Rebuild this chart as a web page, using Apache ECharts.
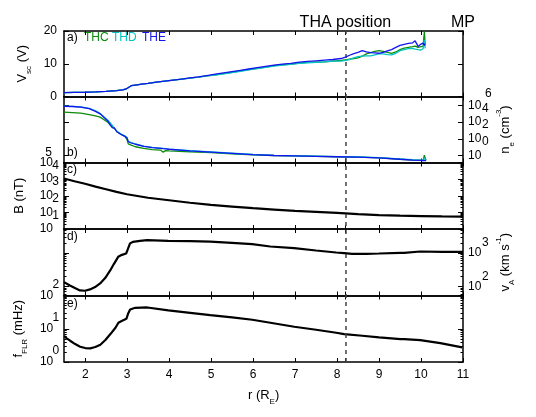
<!DOCTYPE html>
<html><head><meta charset="utf-8">
<script src="https://cdn.jsdelivr.net/npm/echarts@6/dist/echarts.min.js"></script>
<style>html,body{margin:0;padding:0;background:#fff}#c{width:536px;height:417px}</style>
</head><body><div id="c"></div>
<script>
// ---------------- data ----------------
const xTickValues = [2, 3, 4, 5, 6, 7, 8, 9, 10, 11];
const thaPosition = 8.2;
const mpPosition = 11;

// panel a: spacecraft potential (V)
const rA = [1.5,1.75,2.0,2.25,2.5,2.75,2.9,2.98,3.02,3.1,3.2,3.35,3.5,3.7,3.9,4.1,4.3,4.5,4.7,4.9,5.1,5.3,5.5,5.7,5.9,6.1,6.3,6.5,6.7,6.9,7.1,7.3,7.5,7.7,7.9,8.1,8.2,8.3,8.4,8.5,8.6,8.7,8.8,8.9,9.0,9.1,9.2,9.3,9.4,9.5,9.6,9.7,9.8,9.86,9.93,10.0,10.05,10.08,10.1];
const vscTHE = [1.2,1.25,1.3,1.4,1.55,1.8,2.0,2.3,2.9,3.3,3.5,3.8,4.0,4.4,4.7,5.0,5.3,5.7,6.0,6.4,6.8,7.2,7.6,8.0,8.4,8.8,9.2,9.6,9.9,10.1,10.5,10.7,10.9,11.1,11.3,11.6,12.0,12.6,13.1,13.5,14.0,13.6,13.4,13.3,13.2,13.5,13.9,14.3,15.0,15.6,15.9,16.2,16.4,17.0,15.3,16.0,16.3,15.6,16.1];
const vscTHC = [1.2,1.25,1.3,1.4,1.55,1.8,2.0,2.3,2.9,3.3,3.5,3.8,4.0,4.4,4.7,5.0,5.3,5.6,5.9,6.3,6.6,7.0,7.4,7.8,8.2,8.6,9.0,9.4,9.7,9.9,10.2,10.4,10.5,10.6,10.8,11.0,11.2,11.4,11.6,11.8,12.3,13.0,13.4,13.8,14.0,13.8,13.5,13.2,13.6,14.3,14.8,15.0,15.2,15.4,15.0,15.2,15.3,19.8,15.7];
const vscTHD = [1.2,1.25,1.3,1.4,1.55,1.8,2.0,2.3,2.9,3.3,3.5,3.8,4.0,4.4,4.7,5.0,5.3,5.6,5.9,6.3,6.5,6.9,7.3,7.7,8.1,8.5,8.9,9.3,9.6,9.8,10.1,10.3,10.4,10.6,10.8,10.8,11.0,11.3,11.8,12.2,12.3,12.4,12.4,12.7,13.0,13.0,12.8,12.7,13.2,14.0,14.3,14.6,14.7,14.5,14.3,14.2,14.6,17.3,14.7];

// panel b: electron density, log10(n_e / cm^-3)
const rB = [1.5,1.7,1.9,2.1,2.25,2.36,2.48,2.55,2.6,2.65,2.7,2.76,2.85,2.95,3.0,3.03,3.1,3.2,3.4,3.6,3.8,3.86,3.92,4.0,4.5,5.0,5.5,6.0,6.5,7.0,7.5,8.0,8.5,9.0,9.5,9.8,10.0,10.05,10.08,10.12];
const neTHE = [3.9,3.88,3.8,3.62,3.3,3.0,2.45,2.1,1.7,1.35,1.3,0.85,0.55,0.3,0.1,-0.35,-0.5,-0.65,-0.9,-1.05,-1.15,-1.18,-1.2,-1.25,-1.45,-1.6,-1.75,-1.9,-2.0,-2.05,-2.1,-2.15,-2.2,-2.28,-2.45,-2.55,-2.58,-2.6,-2.6,-2.6];
const neTHD = [3.92,3.9,3.82,3.65,3.35,3.05,2.5,2.2,1.9,1.6,1.25,0.9,0.6,0.35,0.15,-0.3,-0.45,-0.6,-0.88,-1.02,-1.12,-1.15,-1.18,-1.23,-1.43,-1.58,-1.73,-1.88,-1.98,-2.03,-2.08,-2.13,-2.18,-2.25,-2.4,-2.5,-2.55,-2.56,-2.3,-2.56];
const neTHC = [3.2,3.15,3.08,2.9,2.75,2.6,2.2,1.95,1.65,1.4,1.25,0.85,0.55,0.3,-0.1,-0.6,-0.75,-0.95,-1.15,-1.3,-1.35,-1.6,-1.42,-1.45,-1.55,-1.65,-1.8,-1.92,-2.0,-2.05,-2.1,-2.15,-2.2,-2.28,-2.45,-2.55,-2.58,-2.6,-1.95,-2.6];

// panel c: magnetic field, log10(B / nT)
const rC = [1.5,1.75,2,2.25,2.5,2.75,3,3.5,4,4.5,5,5.5,6,6.5,7,7.5,8,8.5,9,9.5,10,10.5,11];
const logB = [3.04,2.87,2.72,2.55,2.39,2.23,2.09,1.88,1.73,1.58,1.45,1.35,1.25,1.17,1.09,1.03,0.97,0.90,0.84,0.80,0.78,0.76,0.75];

// panel d: Alfven speed, log10(v_A / km s^-1)
const rD = [1.5,1.64,1.76,1.88,2.0,2.12,2.24,2.36,2.48,2.6,2.69,2.79,2.88,2.98,3.02,3.07,3.14,3.31,3.48,3.98,4.5,4.98,5.5,5.98,6.41,6.98,7.5,7.98,8.17,8.36,8.7,9.0,9.51,9.6,9.64,9.98,10.5,11];
const logVA = [2.13,2.03,1.95,1.88,1.87,1.91,1.98,2.09,2.25,2.48,2.68,2.89,2.95,2.99,3.12,3.29,3.34,3.37,3.39,3.37,3.36,3.35,3.31,3.27,3.2,3.15,3.08,3.02,3.0,2.98,2.98,2.99,3.01,3.01,3.05,3.05,3.04,3.04];

// panel e: field line resonance frequency, log10(f / mHz)
const rE = [1.5,1.55,1.64,1.76,1.88,2.0,2.12,2.24,2.36,2.48,2.6,2.72,2.79,2.88,2.98,3.02,3.07,3.19,3.48,3.98,4.5,4.98,5.5,5.98,6.41,6.98,7.5,7.98,8.17,8.6,9.0,9.51,9.6,9.64,9.98,10.46,10.98];
const logF = [0.78,0.72,0.64,0.54,0.46,0.42,0.41,0.45,0.52,0.66,0.84,1.03,1.18,1.24,1.30,1.45,1.58,1.63,1.64,1.55,1.48,1.41,1.34,1.27,1.18,1.06,0.97,0.88,0.84,0.79,0.74,0.69,0.69,0.71,0.66,0.57,0.44];

// tick labels
const aTickVals = [0, 10, 20];
const aTickLabels = ['0', '10', '20'];
const bTickVals = [-2, 0, 2, 4];
const bRightBase = ['10', '10', '10', '10'];
const bRightExp = ['', '0', '2', '4'];
const bTopExp = '6';
const bLeftLabel = '5';
const cTickVals = [0, 1, 2, 3, 4];
const cBase = ['10', '10', '10', '10', '10'];
const cExp = ['', '1', '2', '3', '4'];
const dTickVals = [2, 3];
const dBase = ['10', '10'];
const dExp = ['2', '3'];
const eTickVals = [0, 1, 2];
const eBase = ['10', '10', '10'];
const eExp = ['0', '1', '2'];

const spacecraft = ['THC', 'THD', 'THE'];
const scColors = ['#0b8c0b', '#00c4c4', '#1414f0'];

// ---------------- layout / style ----------------
const FONT = '"Liberation Sans", Arial, Helvetica, sans-serif';
const GL = 64, GW = 399;
const panels = [
  { top: 31, height: 65.5, min: 0, max: 20 },
  { top: 96.5, height: 66, min: -2.84, max: 5.08 },
  { top: 162.5, height: 66.5, min: 0, max: 4 },
  { top: 229, height: 66.5, min: 1.727, max: 3.727 },
  { top: 295.5, height: 66.5, min: 0, max: 2 }
];

function minorTicks(min, max) {
  const out = [];
  for (let k = Math.floor(min); k <= Math.ceil(max); k++) {
    for (let m = 2; m <= 9; m++) {
      const v = k + Math.log10(m);
      if (v > min && v < max) out.push(v);
    }
  }
  return out;
}
function labelFmt(vals, texts) {
  return function (v) {
    for (let i = 0; i < vals.length; i++) if (Math.abs(vals[i] - v) < 1e-6) return texts[i];
    return '';
  };
}

const grids = [], xAxes = [], yAxes = [], series = [];
panels.forEach(function (p, i) {
  grids.push({ left: GL, width: GW, top: p.top, height: p.height, containLabel: false });
  ['bottom', 'top'].forEach(function (pos) {
    const isLabel = (i === 4 && pos === 'bottom');
    xAxes.push({
      type: 'value', gridIndex: i, position: pos, min: 1.5, max: 11,
      axisLine: { show: true, onZero: false, lineStyle: { color: '#000', width: 1.5 } },
      axisTick: { show: true, inside: true, length: 4, customValues: xTickValues.concat([thaPosition]), lineStyle: { color: '#000', width: 1 } },
      axisLabel: { show: isLabel, customValues: xTickValues, margin: 7, fontSize: 12, fontFamily: FONT, color: '#000', hideOverlap: false },
      splitLine: { show: false },
      name: isLabel ? '{n|r (R}{s|E}{n|)}' : '',
      nameLocation: 'middle', nameGap: 27,
      nameTextStyle: { rich: {
        n: { fontSize: 13, fontFamily: FONT, color: '#000', lineHeight: 16, verticalAlign: 'top', padding: [0, 0, 3, 0] },
        s: { fontSize: 8, fontFamily: FONT, color: '#000', lineHeight: 10, verticalAlign: 'top', padding: [9, 0, 0, 0] }
      } }
    });
  });
});

// shift > 0 moves label text down, < 0 moves it up
function yAx(o) {
  const sh = o.shift || 0;
  const lab = o.labelVals ? {
    show: true, customValues: o.labelVals, formatter: labelFmt(o.labelVals, o.labelTexts),
    margin: o.margin, fontSize: 12, fontFamily: FONT, color: '#000', hideOverlap: false,
    showMinLabel: true, showMaxLabel: true
  } : { show: false };
  if (o.labelVals && sh !== 0) {
    lab.verticalAlign = sh > 0 ? 'top' : 'bottom';
    lab.lineHeight = 2 * Math.abs(sh);
  }
  return {
    type: 'value', gridIndex: o.grid, position: o.pos, min: o.min, max: o.max,
    axisLine: { show: !!o.line, onZero: false, lineStyle: { color: '#000', width: 1.5 } },
    axisTick: { show: !!o.ticks, inside: true, length: o.tickLen || 5, customValues: o.ticks || [], lineStyle: { color: '#000', width: 1 } },
    axisLabel: lab,
    splitLine: { show: false },
    name: o.name || '', nameLocation: 'middle', nameRotate: 90, nameGap: o.nameGap || 30,
    nameTextStyle: o.nameStyle || {}
  };
}
const nameRich = {
  n: { fontSize: 13, fontFamily: FONT, color: '#000', lineHeight: 15, verticalAlign: 'top', padding: [4, 0, 3, 0] },
  s: { fontSize: 8, fontFamily: FONT, color: '#000', lineHeight: 10, verticalAlign: 'top', padding: [13, 0, 0, 0] },
  p: { fontSize: 8, fontFamily: FONT, color: '#000', lineHeight: 10, verticalAlign: 'top', padding: [0, 0, 0, 0] }
};

const yIdx = [];
function pickNonEmpty(vals, texts) {
  const v = [], t = [];
  vals.forEach(function (x, i) { if (texts[i]) { v.push(x); t.push(texts[i]); } });
  return { v: v, t: t };
}
// a
yIdx[0] = yAxes.length;
yAxes.push(yAx({ grid: 0, pos: 'left', min: 0, max: 20, line: true, ticks: aTickVals, labelVals: aTickVals, labelTexts: aTickLabels, margin: 7,
  name: '{n|V}{s|sc}{n| (V)}', nameGap: 33, nameStyle: { rich: nameRich } }));
yAxes.push(yAx({ grid: 0, pos: 'right', min: 0, max: 20, line: true, ticks: aTickVals }));
// b
const pb = panels[1];
yIdx[1] = yAxes.length;
yAxes.push(yAx({ grid: 1, pos: 'right', min: pb.min, max: pb.max, line: true, ticks: bTickVals,
  labelVals: bTickVals, labelTexts: bRightBase, margin: 5,
  name: '{n|n}{s|e}{n| (cm}{p|-3}{n|)}', nameGap: 32, nameStyle: { rich: nameRich } }));
(function () {
  const ex = pickNonEmpty(bTickVals, bRightExp);
  yAxes.push(yAx({ grid: 1, pos: 'right', min: pb.min, max: pb.max, labelVals: ex.v, labelTexts: ex.t, margin: 19, shift: 3 }));
})();
yAxes.push(yAx({ grid: 1, pos: 'right', min: pb.min, max: pb.max, labelVals: [pb.max], labelTexts: [bTopExp], margin: 22, shift: -3 }));
yAxes.push(yAx({ grid: 1, pos: 'left', min: pb.min, max: pb.max, line: true, ticks: bTickVals,
  labelVals: [bTickVals[0]], labelTexts: [bLeftLabel], margin: 12, shift: -3 }));

// c, d, e
function logPanel(i, vals, bases, exps, side, expShift, name, nameGap) {
  const p = panels[i];
  const other = side === 'left' ? 'right' : 'left';
  yIdx[i] = yAxes.length;
  yAxes.push(yAx({ grid: i, pos: side, min: p.min, max: p.max, line: true, ticks: vals, labelVals: vals, labelTexts: bases,
    margin: side === 'left' ? 11 : 5, name: name, nameGap: nameGap, nameStyle: { rich: nameRich } }));
  const ex = pickNonEmpty(vals, exps);
  yAxes.push(yAx({ grid: i, pos: side, min: p.min, max: p.max, labelVals: ex.v, labelTexts: ex.t,
    margin: side === 'left' ? 5 : 19, shift: expShift }));
  yAxes.push(yAx({ grid: i, pos: other, min: p.min, max: p.max, line: true, ticks: vals }));
  yAxes.push(yAx({ grid: i, pos: 'left', min: p.min, max: p.max, ticks: minorTicks(p.min, p.max), tickLen: 2.5 }));
  yAxes.push(yAx({ grid: i, pos: 'right', min: p.min, max: p.max, ticks: minorTicks(p.min, p.max), tickLen: 2.5 }));
}
logPanel(2, cTickVals, cBase, cExp, 'left', 3, '{n|B (nT)}', 33);
logPanel(3, dTickVals, dBase, dExp, 'right', -10, '{n|v}{s|A}{n| (km s}{p|-1}{n|)}', 32);
logPanel(4, eTickVals, eBase, eExp, 'left', -11, '{n|f}{s|FLR}{n| (mHz)}', 33);

function pairs(r, v) { return r.map(function (x, i) { return [x, v[i]]; }); }
const scA = [vscTHC, vscTHD, vscTHE], scB = [neTHC, neTHD, neTHE];
spacecraft.forEach(function (name, k) {
  series.push({ type: 'line', name: name, xAxisIndex: 0, yAxisIndex: yIdx[0], data: pairs(rA, scA[k]),
    showSymbol: false, symbol: 'none', lineStyle: { color: scColors[k], width: 1.3 }, itemStyle: { color: scColors[k] }, z: 3 + k, animation: false });
});
spacecraft.forEach(function (name, k) {
  series.push({ type: 'line', name: name, xAxisIndex: 2, yAxisIndex: yIdx[1], data: pairs(rB, scB[k]),
    showSymbol: false, symbol: 'none', lineStyle: { color: scColors[k], width: 1.3 }, itemStyle: { color: scColors[k] }, z: 3 + k, animation: false });
});
[[rC, logB], [rD, logVA], [rE, logF]].forEach(function (d, j) {
  const i = j + 2;
  series.push({ type: 'line', name: 'p' + i, xAxisIndex: 2 * i, yAxisIndex: yIdx[i], data: pairs(d[0], d[1]),
    showSymbol: false, symbol: 'none', lineStyle: { color: '#000', width: 2.2 }, animation: false });
});

// overlay grid for the THA position line and annotations
grids.push({ left: GL, width: GW, top: 31, height: 331 });
xAxes.push({ type: 'value', gridIndex: 5, min: 1.5, max: 11, show: false });
yAxes.push({ type: 'value', gridIndex: 5, min: 0, max: 1, show: false });
series.push({
  type: 'line', name: 'overlay', xAxisIndex: xAxes.length - 1, yAxisIndex: yAxes.length - 1, data: [], animation: false,
  markLine: {
    silent: true, symbol: 'none', animation: false,
    lineStyle: { color: '#444', width: 1.5, type: [4, 4] },
    label: { show: true, position: 'end', distance: 0, fontSize: 16, fontFamily: FONT, color: '#000' },
    data: [
      { xAxis: thaPosition, label: { formatter: 'THA position' } },
      { xAxis: mpPosition, lineStyle: { color: 'rgba(0,0,0,0)', width: 0 }, label: { formatter: 'MP', color: '#000' } }
    ]
  }
});

const letterStyle = { fontSize: 12, fontFamily: FONT, fill: '#000' };
const legendX = [84, 112, 142];
const option = {
  animation: false,
  backgroundColor: '#fff',
  grid: grids, xAxis: xAxes, yAxis: yAxes, series: series,
  graphic: [
    { type: 'text', left: 67, top: 32, style: Object.assign({ text: 'a)' }, letterStyle) },
    { type: 'text', left: 67, top: 147, style: Object.assign({ text: 'b)' }, letterStyle) },
    { type: 'text', left: 67, top: 164, style: Object.assign({ text: 'c)' }, letterStyle) },
    { type: 'text', left: 67, top: 231, style: Object.assign({ text: 'd)' }, letterStyle) },
    { type: 'text', left: 67, top: 298, style: Object.assign({ text: 'e)' }, letterStyle) }
  ].concat(spacecraft.map(function (n, k) {
    return { type: 'text', left: legendX[k], top: 32, style: { text: n, fontSize: 12, fontFamily: FONT, fill: scColors[k] } };
  }))
};
const chart = echarts.init(document.getElementById('c'), null, { renderer: 'canvas' });
chart.setOption(option);
</script></body></html>
